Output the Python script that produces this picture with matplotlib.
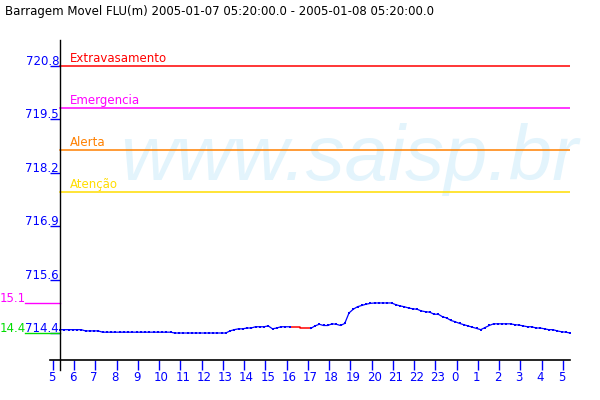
import numpy as np
import matplotlib
matplotlib.use("Agg")
import matplotlib.pyplot as plt
from matplotlib.transforms import ScaledTranslation

# ---------------- data ----------------
title = "Barragem Movel FLU(m) 2005-01-07 05:20:00.0 - 2005-01-08 05:20:00.0"
start_hour = 5 + 20 / 60          # 05:20
step_h = 0.2                      # sample interval (hours)

levels = [
    714.48, 714.48, 714.48, 714.48, 714.48, 714.48,
    714.45, 714.45, 714.45, 714.45,
    714.42, 714.42, 714.42, 714.42, 714.42, 714.42, 714.42, 714.42, 714.42,
    714.42, 714.42, 714.42, 714.42, 714.42, 714.42, 714.42, 714.42,
    714.40, 714.40, 714.40, 714.40, 714.40, 714.40, 714.40, 714.40, 714.40,
    714.40, 714.40, 714.40, 714.40,
    714.45, 714.48, 714.50, 714.50, 714.52, 714.52, 714.55, 714.55, 714.55, 714.57,
    714.50, 714.52, 714.55, 714.55, 714.55, 714.54, 714.54, 714.51, 714.51, 714.51,
    714.57, 714.61, 714.58, 714.58, 714.62, 714.61, 714.58, 714.63, 714.88, 714.97,
    715.03, 715.06, 715.09, 715.11, 715.12, 715.12, 715.12, 715.12, 715.12, 715.08,
    715.05, 715.03, 715.00, 714.98, 714.97, 714.93, 714.91, 714.90, 714.85, 714.85,
    714.79, 714.76, 714.70, 714.67, 714.63, 714.60, 714.57, 714.54, 714.51, 714.48,
    714.53, 714.58, 714.62, 714.62, 714.62, 714.62, 714.62, 714.60, 714.59, 714.57,
    714.55, 714.55, 714.52, 714.52, 714.50, 714.48, 714.48, 714.45, 714.43, 714.42,
    714.40,
]
gap_hours = (10.9, 11.7)          # missing data (drawn in red)

threshold_names = ["Extravasamento", "Emergencia", "Alerta", "Atenção"]
threshold_values = [720.8, 719.79, 718.79, 717.77]
threshold_colors = ["#ff0000", "#ff00ff", "#ff8000", "#ffdd00"]

ytick_values = [720.8, 719.52, 718.24, 716.96, 715.68, 714.4]
ytick_labels = ["720.8", "719.5", "718.2", "716.9", "715.6", "714.4"]
xtick_labels = ["5", "6", "7", "8", "9", "10", "11", "12", "13", "14", "15", "16",
                "17", "18", "19", "20", "21", "22", "23", "0", "1", "2", "3", "4", "5"]

watermark = "www.saisp.br"

# ---------------- figure ----------------
BLUE = "#0000ff"
fig = plt.figure(figsize=(6, 4), dpi=100)
fig.patch.set_facecolor("white")
# axes from x=50..570 px, y=40..360 px
ax = fig.add_axes([50 / 600, 40 / 400, 520 / 600, 320 / 400])
ax.set_facecolor("white")

t = np.arange(len(levels)) * step_h
y = np.array(levels, dtype=float)
ax.set_xlim(-10 / 21.25, 24.0)
ax.set_ylim(713.753, 721.423)

# watermark
ax.text((120 - 50) / 520, (360 - 180) / 320, watermark, transform=ax.transAxes,
        fontsize=56, family="Liberation Sans", style="italic", color="#e3f4fc",
        ha="left", va="baseline", zorder=0, clip_on=False)

# threshold lines + labels
for name, val, col in zip(threshold_names, threshold_values, threshold_colors):
    ax.axhline(val, xmin=10 / 520, xmax=1, color=col, lw=1.1, zorder=2)
    ax.annotate(name, xy=((70 - 50) / 520, val), xycoords=ax.get_yaxis_transform(),
                xytext=(0, 4), textcoords="offset pixels", color=col,
                fontsize=8.5, ha="left", va="baseline")

# data series
in_gap = (t > gap_hours[0]) & (t < gap_hours[1])
y_blue = np.where(in_gap, np.nan, y)
ax.plot(t, y_blue, color=BLUE, lw=0.9, marker="s", ms=2.0, mew=0, zorder=4)
gi = np.where(in_gap)[0]
seg = slice(gi[0] - 1, gi[-1] + 2)
ax.plot(t[seg], y[seg], color="#ff0000", lw=1.1, drawstyle="steps-mid", zorder=3)

# left vertical axis line at 05:20
ax.axvline(0, ymin=-10 / 320, ymax=1, color="black", lw=1.0, clip_on=False, zorder=5)

# max / min markers
vmax, vmin = y.max(), y.min()
ytr = ax.get_yaxis_transform()
for v, col in [(vmax, "#ff00ff"), (vmin, "#00dd00")]:
    ax.plot([(25 - 50) / 520, 10 / 520], [v, v], transform=ytr, color=col,
            lw=1, clip_on=False, zorder=3)
    lab = f"{round(v - 700, 1):.1f}"
    ax.text(-50 / 520, v, lab, transform=ytr + ScaledTranslation(0, 1 / 100, fig.dpi_scale_trans),
            color=col, fontsize=8.5, ha="left", va="baseline", clip_on=False)

# spines
for s in ["left", "top", "right"]:
    ax.spines[s].set_visible(False)
ax.spines["bottom"].set_color("black")
ax.spines["bottom"].set_linewidth(1.2)

# x ticks: whole hours
xticks = np.arange(len(xtick_labels)) + (np.floor(start_hour) - start_hour)
ax.set_xticks(xticks)
ax.set_xticklabels(xtick_labels)
ax.tick_params(axis="x", direction="out", length=7.2, width=1, color=BLUE,
               labelcolor=BLUE, labelsize=8.5, pad=1)
off = ScaledTranslation(-5 / 100, 0, fig.dpi_scale_trans)
for lbl in ax.get_xticklabels():
    lbl.set_horizontalalignment("left")
    lbl.set_transform(lbl.get_transform() + off)

# y ticks
ax.set_yticks(ytick_values)
ax.set_yticklabels(ytick_labels)
ax.tick_params(axis="y", direction="in", length=7.2, width=1, color=BLUE,
               labelcolor=BLUE, labelsize=8.5, pad=-6.5)
for lbl in ax.get_yticklabels():
    lbl.set_verticalalignment("baseline")
    lbl.set_transform(lbl.get_transform() + ScaledTranslation(0, 1 / 100, fig.dpi_scale_trans))

fig.text(5 / 600, 1 - 15 / 400, title, fontsize=8.5, color="black", ha="left", va="baseline")

fig.savefig("out.png", dpi=100)
